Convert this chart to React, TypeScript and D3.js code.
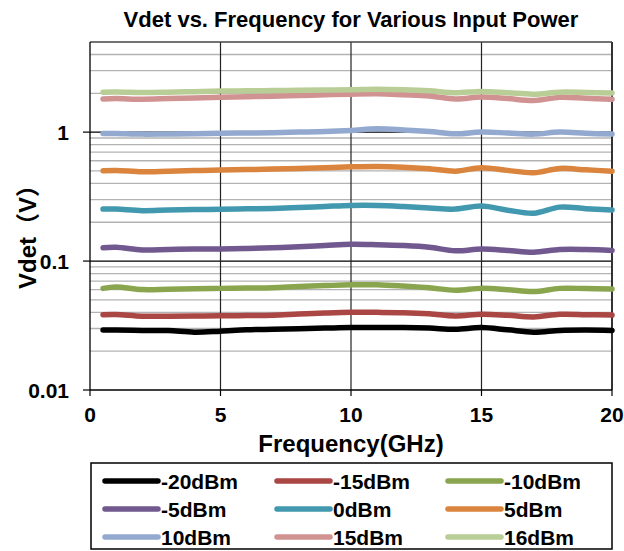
import React from "react";
import * as d3 from "d3";

const freqs = [0.5, 1, 2, 3, 4, 5, 6, 7, 8, 9, 10, 11, 12, 13, 14, 15, 16, 17, 18, 19, 20];
const seriesNames = ["-20dBm", "-15dBm", "-10dBm", "-5dBm", "0dBm", "5dBm", "10dBm", "15dBm", "16dBm"];
const seriesColors = ["#000000", "#AA4643", "#89A54E", "#71588F", "#4198AF", "#DB843D", "#93A9CF", "#D19392", "#B9CD96"];

const vM20 = [0.0292, 0.0292, 0.029, 0.0289, 0.0281, 0.0286, 0.0293, 0.0296, 0.0299, 0.0302, 0.0305, 0.0305, 0.0305, 0.0302, 0.0296, 0.0305, 0.0293, 0.0281, 0.029, 0.0292, 0.029];
const vM15 = [0.0384, 0.0385, 0.0373, 0.0374, 0.0375, 0.0376, 0.0378, 0.038, 0.0388, 0.0395, 0.04, 0.04, 0.0398, 0.039, 0.0375, 0.0387, 0.038, 0.0369, 0.0387, 0.0384, 0.0381];
const vM10 = [0.0614, 0.063, 0.0601, 0.0605, 0.061, 0.0614, 0.0618, 0.0622, 0.0635, 0.0645, 0.0654, 0.0655, 0.064, 0.062, 0.0594, 0.0614, 0.06, 0.058, 0.0614, 0.0612, 0.0607];
const vM5 = [0.127, 0.128, 0.122, 0.123, 0.124, 0.124, 0.125, 0.127, 0.129, 0.132, 0.135, 0.134, 0.132, 0.128, 0.12, 0.124, 0.121, 0.117, 0.123, 0.123, 0.121];
const v0 = [0.253, 0.253, 0.246, 0.249, 0.251, 0.252, 0.254, 0.256, 0.26, 0.265, 0.27, 0.27, 0.265, 0.258, 0.253, 0.267, 0.248, 0.235, 0.262, 0.255, 0.249];
const v5 = [0.501, 0.505, 0.493, 0.498, 0.503, 0.508, 0.512, 0.517, 0.522, 0.53, 0.538, 0.542, 0.535, 0.52, 0.498, 0.53, 0.505, 0.484, 0.523, 0.51, 0.498];
const v10 = [0.977, 0.975, 0.965, 0.968, 0.972, 0.98, 0.985, 0.99, 1.0, 1.01, 1.03, 1.06, 1.04, 1.01, 0.97, 1.0, 0.985, 0.965, 1.0, 0.98, 0.965];
const v15 = [1.81, 1.82, 1.8, 1.82, 1.84, 1.86, 1.88, 1.9, 1.92, 1.95, 1.97, 1.98, 1.95, 1.91, 1.81, 1.87, 1.82, 1.76, 1.86, 1.83, 1.8];
const v16 = [2.04, 2.05, 2.03, 2.04, 2.06, 2.08, 2.09, 2.1, 2.11, 2.12, 2.13, 2.15, 2.13, 2.09, 2.02, 2.07, 2.02, 1.97, 2.04, 2.03, 2.01];
const seriesValues = [vM20, vM15, vM10, vM5, v0, v5, v10, v15, v16];

const xTicks = [0, 5, 10, 15, 20];
const yTickLabels = ["0.01", "0.1", "1"];
const yTickValues = [0.01, 0.1, 1];

const FONT = "'Liberation Sans', Arial, 'Noto Sans CJK SC', sans-serif";

export default function App() {
  const W = 624, H = 551;
  const left = 90, right = 612, top = 42, bottom = 390;
  const x = d3.scaleLinear().domain([0, 20]).range([left, right]);
  const y = d3.scaleLog().domain([0.01, 5]).range([bottom, top]);

  const minorVals: number[] = [];
  [0.01, 0.1, 1].forEach((dec) => {
    for (let k = 2; k <= 9; k++) {
      const v = dec * k;
      if (v < 5) minorVals.push(v);
    }
  });

  const line = d3
    .line<[number, number]>()
    .x((d) => x(d[0]))
    .y((d) => y(d[1]))
    .curve(d3.curveCatmullRom.alpha(0.5));

  const legCols = [105, 277, 448];
  const legRows = [481, 509, 537];

  return (
    <svg width={W} height={H} style={{ position: "absolute", left: 0, top: 0 }} fontFamily={FONT}>
      <rect x={0} y={0} width={W} height={H} fill="#fff" />
      <text x={(left + right) / 2} y={27} textAnchor="middle" fontSize={22} fontWeight="bold">
        Vdet vs. Frequency for Various Input Power
      </text>
      {minorVals.map((v, i) => (
        <line key={"mg" + i} x1={left} x2={right} y1={y(v)} y2={y(v)} stroke="#B3B3B3" strokeWidth={1.3} />
      ))}
      {[0.1, 1].map((v) => (
        <line key={"mh" + v} x1={left} x2={right} y1={y(v)} y2={y(v)} stroke="#000" strokeWidth={1.2} />
      ))}
      {[5, 10, 15].map((v) => (
        <line key={"vg" + v} x1={x(v)} x2={x(v)} y1={top} y2={bottom} stroke="#222" strokeWidth={1.2} />
      ))}
      <line x1={left} x2={right} y1={top} y2={top} stroke="#444" strokeWidth={1.5} />
      <line x1={right} x2={right} y1={top} y2={bottom} stroke="#333" strokeWidth={2} />
      <line x1={left} x2={left} y1={top} y2={bottom} stroke="#000" strokeWidth={1.3} />
      <line x1={left} x2={right} y1={bottom} y2={bottom} stroke="#000" strokeWidth={1.3} />
      {yTickValues.map((v, i) => (
        <g key={"yt" + i}>
          <line x1={left - 7} x2={left} y1={y(v)} y2={y(v)} stroke="#000" strokeWidth={1.2} />
          <text x={left - 21} y={y(v) + 7.5} textAnchor="end" fontSize={21} fontWeight="bold">
            {yTickLabels[i]}
          </text>
        </g>
      ))}
      {xTicks.map((v) => (
        <g key={"xt" + v}>
          <line x1={x(v)} x2={x(v)} y1={bottom} y2={bottom + 6} stroke="#000" strokeWidth={1.2} />
          <text x={x(v)} y={bottom + 32} textAnchor="middle" fontSize={21} fontWeight="bold">
            {v}
          </text>
        </g>
      ))}
      <text x={(left + right) / 2} y={452} textAnchor="middle" fontSize={24} fontWeight="bold">
        Frequency(GHz)
      </text>
      <text
        transform={`translate(36, 231) rotate(-90)`}
        textAnchor="middle"
        fontSize={24}
        fontWeight="bold"
      >
        Vdet（V）
      </text>
      {seriesValues.map((vals, i) => (
        <path
          key={"s" + i}
          d={line(freqs.map((f, j) => [f, vals[j]] as [number, number])) || ""}
          fill="none"
          stroke={seriesColors[i]}
          strokeWidth={5.5}
          strokeLinecap="round"
          strokeLinejoin="round"
        />
      ))}
      <rect x={91} y={463} width={521} height={86} fill="#fff" stroke="#000" strokeWidth={1.5} />
      {seriesNames.map((name, i) => {
        const cx = legCols[i % 3];
        const cy = legRows[Math.floor(i / 3)];
        return (
          <g key={"lg" + i}>
            <line x1={cx} x2={cx + 53} y1={cy} y2={cy} stroke={seriesColors[i]} strokeWidth={5.5} strokeLinecap="round" />
            <text x={cx + 56} y={cy + 7.5} fontSize={21} fontWeight="bold">
              {name}
            </text>
          </g>
        );
      })}
    </svg>
  );
}
